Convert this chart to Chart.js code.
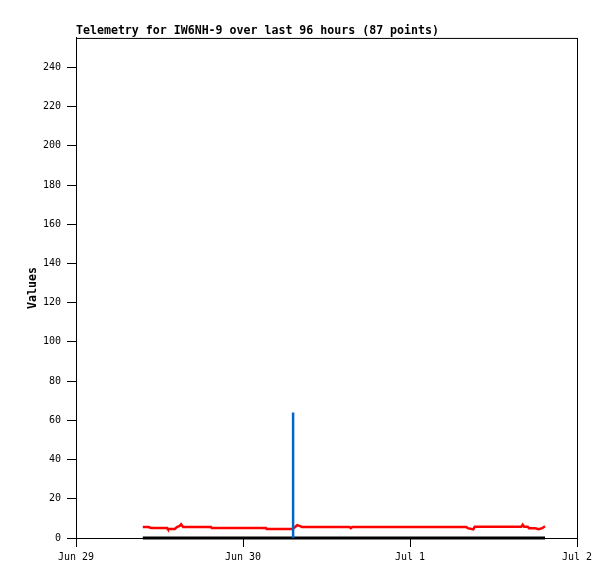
<!DOCTYPE html>
<html>
<head>
<meta charset="utf-8">
<title>Telemetry for IW6NH-9</title>
<script src="https://cdn.jsdelivr.net/npm/chart.js@4.4.1/dist/chart.umd.min.js"></script>
<style>
  body { margin: 0; background: #fff; }
  #wrap { width: 615px; height: 579px; }
</style>
</head>
<body>
<div id="wrap"><canvas id="telemetry" width="615" height="579"></canvas></div>
<script>
// hours since Jun 29 00:00
const dayLabels = ['Jun 29', 'Jun 30', 'Jul 1', 'Jul 2'];

// red trace
const redHours = [9.6, 10.4, 10.8, 12.0, 13.1, 13.2, 14.2, 14.5, 14.9, 15.1, 15.4, 17.0, 19.4, 19.5, 22.0,
  24.0, 27.3, 27.4, 29.5, 31.1, 31.5, 31.8, 32.2, 32.5, 35.0, 39.3, 39.5, 39.7, 44.0, 48.0,
  52.0, 56.1, 56.3, 57.1, 57.3, 60.0, 64.0, 64.2, 64.4, 64.9, 65.1, 66.0, 66.5, 67.0, 67.4];
const redValues = [5.6, 5.6, 5.1, 5.1, 5.1, 4.6, 4.6, 5.6, 6.1, 7.0, 5.6, 5.6, 5.6, 5.1, 5.1,
  5.1, 5.1, 4.6, 4.6, 4.6, 5.6, 6.6, 6.1, 5.6, 5.6, 5.6, 5.0, 5.6, 5.6, 5.6,
  5.6, 5.6, 5.0, 4.4, 5.8, 5.8, 5.8, 6.8, 5.8, 5.8, 5.0, 5.0, 4.5, 5.0, 6.0];

// blue spike
const blueHours = [31.2, 31.2];
const blueValues = [0, 64];

// black trace (flat zero)
const blackHours = [9.6, 67.4];
const blackValues = [0, 0];

function toPoints(xs, ys) {
  return xs.map((x, i) => ({ x: x, y: ys[i] }));
}

const monoFont = '"DejaVu Sans Mono", "Liberation Mono", monospace';

// black frame round the plot area
const framePlugin = {
  id: 'frame',
  beforeDatasetsDraw(chart) {
    const { ctx, chartArea: a } = chart;
    ctx.save();
    ctx.strokeStyle = '#000';
    ctx.lineWidth = 1;
    ctx.strokeRect(a.left + 0.5, a.top + 0.5, a.right - a.left, a.bottom - a.top);
    ctx.restore();
  }
};

const whiteBg = {
  id: 'whiteBg',
  beforeDraw(chart) {
    const ctx = chart.ctx;
    ctx.save();
    ctx.fillStyle = '#fff';
    ctx.fillRect(0, 0, chart.width, chart.height);
    ctx.restore();
  }
};

new Chart(document.getElementById('telemetry'), {
  type: 'line',
  data: {
    datasets: [
      {
        label: 'spike',
        data: toPoints(blueHours, blueValues),
        borderColor: '#0066cc',
        borderWidth: 2.5,
        pointRadius: 0,
        clip: false
      },
      {
        label: 'red',
        data: toPoints(redHours, redValues),
        borderColor: '#ff0000',
        borderWidth: 2.5,
        pointRadius: 0,
        tension: 0,
        clip: false
      },
      {
        label: 'zero',
        data: toPoints(blackHours, blackValues),
        borderColor: '#000',
        borderWidth: 3,
        pointRadius: 0,
        clip: false
      }
    ]
  },
  options: {
    responsive: false,
    animation: false,
    layout: { padding: { left: 0, right: 38, top: 0, bottom: 0 } },
    plugins: {
      legend: { display: false },
      tooltip: { enabled: false },
      title: {
        display: true,
        text: 'Telemetry for IW6NH-9 over last 96 hours (87 points)',
        align: 'start',
        fullSize: false,
        color: '#000',
        font: { family: monoFont, size: 11.6, weight: 'bold' },
        padding: { top: 24, bottom: 0 }
      }
    },
    scales: {
      x: {
        type: 'linear',
        min: 0,
        max: 72,
        afterFit: (s) => { s.height = 41; },
        ticks: {
          stepSize: 24,
          color: '#000',
          padding: 4,
          maxRotation: 0,
          font: { family: monoFont, size: 10 },
          callback: (v) => dayLabels[v / 24]
        },
        grid: { drawOnChartArea: false, drawTicks: true, tickLength: 9, color: '#000' },
        border: { display: true, color: '#000' }
      },
      y: {
        min: 0,
        max: 255,
        afterFit: (s) => { s.width = 76; },
        afterBuildTicks: (s) => { s.ticks = s.ticks.filter(t => t.value % 20 === 0); },
        ticks: {
          stepSize: 20,
          color: '#000',
          padding: 6,
          font: { family: monoFont, size: 10 }
        },
        title: {
          display: true,
          text: 'Values',
          color: '#000',
          font: { family: monoFont, size: 11.6, weight: 'bold' },
          padding: { top: 26, bottom: 0 }
        },
        grid: { drawOnChartArea: false, drawTicks: true, tickLength: 9, color: '#000' },
        border: { display: true, color: '#000' }
      }
    }
  },
  plugins: [whiteBg, framePlugin]
});
</script>
</body>
</html>
